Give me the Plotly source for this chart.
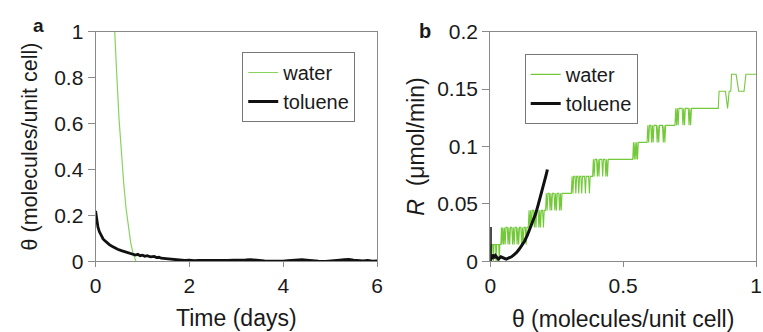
import plotly.graph_objects as go

# ---------------- Panel a data ----------------
water_a_t = [0.35, 0.40, 0.45, 0.50, 0.55, 0.60, 0.65, 0.70, 0.75, 0.80, 0.86]
water_a_theta = [1.25, 1.0, 0.82, 0.62, 0.46, 0.34, 0.23, 0.15, 0.08, 0.035, 0.0]

toluene_a_t = [0, 0.01, 0.03, 0.05, 0.08, 0.12, 0.16, 0.2, 0.25, 0.3,
               0.35, 0.4, 0.47, 0.55, 0.62, 0.68, 0.75, 0.8, 0.85, 0.9,
               0.95, 1.0, 1.05, 1.1, 1.17, 1.25, 1.3, 1.35, 1.4, 1.5,
               1.6, 1.7, 1.8, 1.9, 2.0, 2.1, 2.2, 2.35, 2.5, 2.65,
               2.8, 2.95, 3.1, 3.2, 3.3, 3.4, 3.5, 3.6, 3.75, 3.9,
               4.0, 4.1, 4.25, 4.4, 4.5, 4.6, 4.75, 4.9, 5.0, 5.1,
               5.2, 5.3, 5.4, 5.5, 5.6, 5.7, 5.8, 5.9, 6.0]
toluene_a_theta = [0.22, 0.2, 0.17, 0.15, 0.13, 0.11, 0.098, 0.09, 0.08, 0.072,
                   0.066, 0.06, 0.053, 0.047, 0.042, 0.037, 0.033, 0.03, 0.028, 0.031,
                   0.025, 0.027, 0.022, 0.025, 0.02, 0.022, 0.017, 0.018, 0.014, 0.012,
                   0.01, 0.007, 0.006, 0.004, 0.006, 0.003, 0.005, 0.004, 0.005, 0.003,
                   0.004, 0.006, 0.005, 0.007, 0.008, 0.005, 0.003, 0.002, 0.001, 0.0,
                   0.001, 0.003, 0.005, 0.008, 0.006, 0.003, 0.001, 0.0, 0.001, 0.003,
                   0.006, 0.008, 0.009, 0.006, 0.003, 0.002, 0.004, 0.001, 0.002]

# ---------------- Panel b data ----------------
water_b_points = [
    (0.000, 0.0), (0.002, 0.0148), (0.004, 0.0), (0.006, 0.0148), (0.010, 0.0148), (0.012, 0.0),
    (0.014, 0.0148), (0.020, 0.0148), (0.022, 0.0), (0.024, 0.0148), (0.032, 0.0148), (0.034, 0.0),
    (0.036, 0.0148), (0.040, 0.0148), (0.042, 0.0296), (0.044, 0.0148), (0.047, 0.0296), (0.050, 0.0148),
    (0.053, 0.0296), (0.056, 0.0148), (0.059, 0.0296), (0.064, 0.0296), (0.067, 0.0148), (0.070, 0.0296),
    (0.073, 0.0148), (0.076, 0.0296), (0.081, 0.0296), (0.084, 0.0148), (0.087, 0.0296), (0.090, 0.0148),
    (0.093, 0.0296), (0.098, 0.0296), (0.101, 0.0148), (0.104, 0.0296), (0.107, 0.0148), (0.110, 0.0296),
    (0.115, 0.0296), (0.118, 0.0148), (0.121, 0.0296), (0.124, 0.0148), (0.127, 0.0296), (0.132, 0.0296),
    (0.135, 0.0148), (0.138, 0.0296), (0.143, 0.0296), (0.146, 0.0444),
    (0.149, 0.0296), (0.152, 0.0444), (0.155, 0.0296), (0.158, 0.0444), (0.163, 0.0444), (0.166, 0.0296),
    (0.169, 0.0444), (0.172, 0.0296), (0.175, 0.0444), (0.180, 0.0444), (0.183, 0.0296), (0.186, 0.0444),
    (0.189, 0.0296), (0.192, 0.0444), (0.197, 0.0444), (0.200, 0.0296), (0.203, 0.0444), (0.208, 0.0444),
    (0.211, 0.0592), (0.214, 0.0444), (0.217, 0.0592), (0.222, 0.0592), (0.225, 0.0444), (0.228, 0.0592),
    (0.231, 0.0444), (0.234, 0.0592), (0.240, 0.0592), (0.243, 0.0444), (0.246, 0.0592), (0.249, 0.0444),
    (0.252, 0.0592), (0.258, 0.0592), (0.261, 0.0444), (0.264, 0.0592), (0.267, 0.0444), (0.270, 0.0592),
    (0.305, 0.0592),
    (0.308, 0.074), (0.311, 0.0592), (0.314, 0.074), (0.319, 0.074), (0.322, 0.0592), (0.325, 0.074),
    (0.330, 0.074), (0.333, 0.0592), (0.336, 0.074), (0.341, 0.074), (0.344, 0.0592), (0.347, 0.074),
    (0.355, 0.074), (0.358, 0.0592), (0.361, 0.074), (0.370, 0.074), (0.373, 0.0592), (0.376, 0.074),
    (0.385, 0.074),
    (0.388, 0.0888), (0.391, 0.074), (0.394, 0.0888), (0.400, 0.0888), (0.403, 0.074), (0.406, 0.0888),
    (0.409, 0.074), (0.412, 0.0888), (0.420, 0.0888), (0.423, 0.074), (0.426, 0.0888), (0.432, 0.0888),
    (0.435, 0.074), (0.438, 0.0888), (0.441, 0.074), (0.444, 0.0888), (0.536, 0.0888),
    (0.539, 0.1036), (0.542, 0.0888), (0.545, 0.1036), (0.548, 0.0888), (0.551, 0.1036), (0.554, 0.0888),
    (0.557, 0.1036), (0.590, 0.1036),
    (0.593, 0.1184), (0.596, 0.1036), (0.599, 0.1184), (0.604, 0.1184), (0.607, 0.1036), (0.610, 0.1184),
    (0.613, 0.1036), (0.616, 0.1184), (0.625, 0.1184), (0.628, 0.1036), (0.631, 0.1184), (0.634, 0.1036),
    (0.637, 0.1184), (0.648, 0.1184), (0.651, 0.1036), (0.654, 0.1184), (0.657, 0.1036), (0.660, 0.1184),
    (0.695, 0.1184),
    (0.698, 0.1332), (0.701, 0.1184), (0.704, 0.1332), (0.707, 0.1184), (0.710, 0.1332), (0.722, 0.1332),
    (0.725, 0.1184), (0.728, 0.1332), (0.731, 0.1184), (0.734, 0.1332), (0.745, 0.1332), (0.748, 0.1184),
    (0.751, 0.1332), (0.754, 0.1184), (0.757, 0.1332), (0.858, 0.1332),
    (0.861, 0.148), (0.885, 0.148), (0.893, 0.1332), (0.899, 0.148), (0.905, 0.148),
    (0.908, 0.1628), (0.925, 0.1628), (0.935, 0.148), (0.955, 0.148), (0.962, 0.1628), (1.0, 0.1628),
]
water_b_theta = [p[0] for p in water_b_points]
water_b_R = [p[1] for p in water_b_points]

toluene_b_theta = [0.0, 0.0, 0.003, 0.006, 0.01, 0.015, 0.02, 0.03, 0.04, 0.05,
                   0.06, 0.07, 0.08, 0.09, 0.10, 0.11, 0.12, 0.13, 0.14, 0.15,
                   0.16, 0.17, 0.18, 0.19, 0.196, 0.20, 0.21, 0.215]
toluene_b_R = [0.03, 0.0, 0.005, 0.002, 0.006, 0.003, 0.005, 0.002, 0.004, 0.003,
               0.002, 0.003, 0.004, 0.006, 0.008, 0.011, 0.014, 0.018, 0.023, 0.029,
               0.035, 0.041, 0.049, 0.057, 0.063, 0.066, 0.075, 0.080]

# ---------------- Figure ----------------
FONT = "Liberation Sans, Arial, sans-serif"
AXIS_GREY = "#8a8a8a"
TEXT = "#1a1a1a"
WATER_A = "#86d45e"
WATER_B = "#74c93a"
TOL = "#111111"

fig = go.Figure()
fig.add_trace(go.Scatter(x=water_a_t, y=water_a_theta, mode="lines", name="water",
                         line=dict(color=WATER_A, width=1.2), xaxis="x", yaxis="y", legend="legend"))
fig.add_trace(go.Scatter(x=toluene_a_t, y=toluene_a_theta, mode="lines", name="toluene",
                         line=dict(color=TOL, width=2.8), xaxis="x", yaxis="y", legend="legend"))
fig.add_trace(go.Scatter(x=water_b_theta, y=water_b_R, mode="lines", name="water",
                         line=dict(color=WATER_B, width=1.1), xaxis="x2", yaxis="y2", legend="legend2"))
fig.add_trace(go.Scatter(x=toluene_b_theta, y=toluene_b_R, mode="lines", name="toluene",
                         line=dict(color=TOL, width=3), xaxis="x2", yaxis="y2", legend="legend2"))

W, H = 763, 332
ydom = [(H - 268) / H, (H - 21) / H]


def axis_style(ticklen, title_size=23):
    return dict(showline=True, linecolor=AXIS_GREY, linewidth=1, mirror=True,
                ticks="outside", tickcolor=AXIS_GREY, ticklen=ticklen, tickwidth=1,
                showgrid=False, zeroline=False,
                tickfont=dict(family=FONT, size=21, color=TEXT),
                title_font=dict(family=FONT, size=title_size, color=TEXT))


fig.update_layout(
    width=W, height=H,
    margin=dict(l=0, r=0, t=0, b=0),
    paper_bgcolor="white", plot_bgcolor="white",
    font=dict(family=FONT, color=TEXT),
    xaxis=dict(domain=[91 / W, 377 / W], range=[0, 6], dtick=2, anchor="y",
               title=dict(text="Time (days)", standoff=14), **axis_style(5)),
    yaxis=dict(domain=ydom, range=[0, 1], dtick=0.2, anchor="x",
               title=dict(text="θ (molecules/unit cell)", standoff=10), **axis_style(7, 21.5)),
    xaxis2=dict(domain=[492 / W, 762 / W], range=[0, 1], dtick=0.5, anchor="y2",
                title=dict(text="θ (molecules/unit cell)", standoff=16), **axis_style(5)),
    yaxis2=dict(domain=ydom, range=[0, 0.2], dtick=0.05, anchor="x2",
                title=dict(text="<i>R</i>  (μmol/min)", standoff=6), **axis_style(7)),
    legend=dict(x=240 / W, y=1 - 43 / H, xanchor="left", yanchor="top",
                bgcolor="white", bordercolor="#777777", borderwidth=1,
                font=dict(family=FONT, size=20, color=TEXT), tracegroupgap=0),
    legend2=dict(x=527 / W, y=1 - 45 / H, xanchor="left", yanchor="top",
                 bgcolor="white", bordercolor="#777777", borderwidth=1,
                 font=dict(family=FONT, size=20, color=TEXT), tracegroupgap=0),
    annotations=[
        dict(text="<b>a</b>", x=33 / W, y=1 - 15 / H, xref="paper", yref="paper",
             xanchor="center", yanchor="middle",
             showarrow=False, font=dict(family=FONT, size=19, color=TEXT)),
        dict(text="<b>b</b>", x=426 / W, y=1 - 20 / H, xref="paper", yref="paper",
             xanchor="center", yanchor="middle",
             showarrow=False, font=dict(family=FONT, size=20, color=TEXT)),
    ],
)

fig.write_html("out.html")
